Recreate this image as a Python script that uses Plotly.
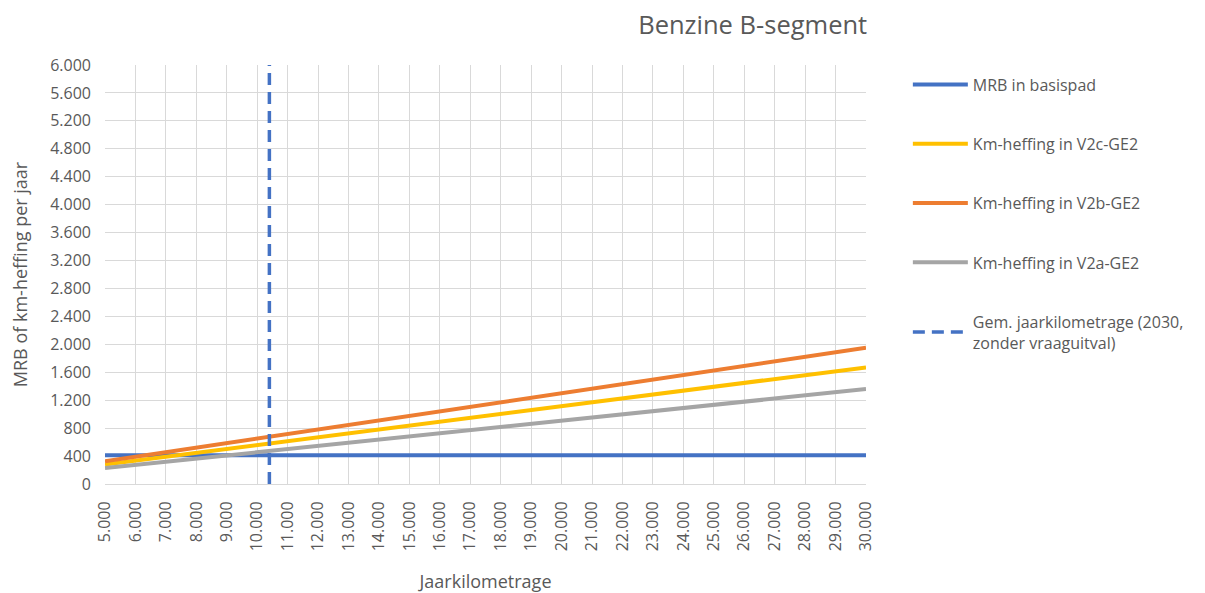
import plotly.graph_objects as go

km_ends = [5000, 30000]
mrb_basispad = [410, 410]
v2c = [280, 1670]
v2b = [325, 1950]
v2a = [228, 1360]
gem_km = 10400
y_span = [0, 6000]

names = ["MRB in basispad", "Km-heffing in V2c-GE2", "Km-heffing in V2b-GE2",
         "Km-heffing in V2a-GE2", "Gem. jaarkilometrage (2030,<br>zonder vraaguitval)"]
colors = ["#4472C4", "#FFC000", "#ED7D31", "#A5A5A5", "#4472C4"]

fig = go.Figure()
series = [mrb_basispad, v2c, v2b, v2a]
for i, s in enumerate(series):
    fig.add_trace(go.Scatter(x=km_ends, y=s, mode="lines", name=names[i],
                             legendgroup=str(i),
                             line=dict(color=colors[i], width=4)))
fig.add_trace(go.Scatter(x=[gem_km, gem_km], y=y_span, mode="lines", name=names[4],
                         legendgroup="4",
                         line=dict(color=colors[4], width=3.5, dash="12px,7px")))

txt = "#595959"
fig.update_layout(
    width=1205, height=593,
    paper_bgcolor="white", plot_bgcolor="white",
    separators=",.",
    font=dict(family="Open Sans, Liberation Sans, sans-serif", color=txt, size=16),
    margin=dict(l=97, r=347, t=57, b=117),
    title=dict(text="Benzine B-segment", x=0.618, xanchor="center", y=0.971, yanchor="middle",
               font=dict(size=25.5, color=txt)),
    showlegend=True,
    legend=dict(x=1.055, xanchor="left", y=0.994, yanchor="top", tracegroupgap=35.5,
                itemwidth=55,
                font=dict(size=16, color=txt), bgcolor="rgba(0,0,0,0)"),
    xaxis=dict(range=[5000, 30000], dtick=1000, tick0=5000, tickformat=",",
               tickangle=-90, showgrid=True, gridcolor="#d9d9d9", gridwidth=1,
               showline=True, linecolor="#d9d9d9", zeroline=False,
               tickfont=dict(size=16, color=txt), ticks="", ticklabelstandoff=10,
               title=dict(text="Jaarkilometrage", font=dict(size=18, color=txt), standoff=25)),
    yaxis=dict(range=[0, 6000], dtick=400, tickformat=",", showgrid=True,
               gridcolor="#d9d9d9", gridwidth=1, zeroline=False, showline=False,
               tickfont=dict(size=16, color=txt), ticks="", ticklabelstandoff=13,
               title=dict(text="MRB of km-heffing per jaar", font=dict(size=18, color=txt), standoff=19)),
)
fig.write_html("out.html")
